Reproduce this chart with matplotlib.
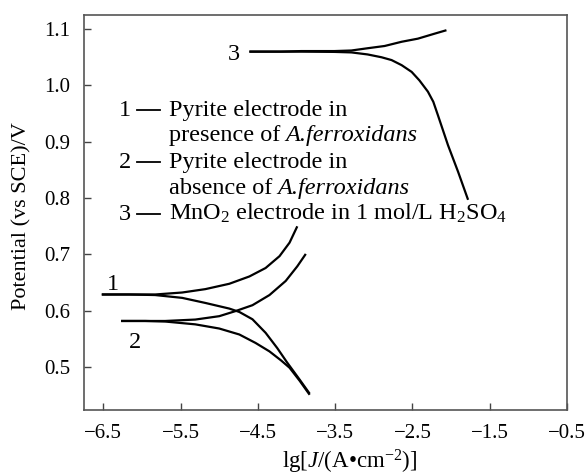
import matplotlib
matplotlib.use("Agg")
import matplotlib.pyplot as plt
from matplotlib.lines import Line2D

plt.rcParams['font.family'] = ['Liberation Serif', 'DejaVu Serif']
plt.rcParams['mathtext.fontset'] = 'custom'
plt.rcParams['mathtext.rm'] = 'Liberation Serif'
plt.rcParams['mathtext.it'] = 'Liberation Serif:italic'
plt.rcParams['mathtext.bf'] = 'Liberation Serif:bold'

# ---- data ----
c1_anodic_x = [-6.52, -6.17, -5.83, -5.48, -5.18, -4.87, -4.61, -4.40, -4.22, -4.09, -3.99]
c1_anodic_y = [0.629, 0.629, 0.629, 0.6325, 0.6385, 0.648, 0.661, 0.676, 0.697, 0.721, 0.750]
c1_cath_x = [-6.52, -6.17, -5.83, -5.48, -5.18, -4.87, -4.74, -4.57, -4.40, -4.25, -4.12, -3.96, -3.83]
c1_cath_y = [0.629, 0.629, 0.628, 0.623, 0.614, 0.604, 0.598, 0.585, 0.561, 0.534, 0.508, 0.478, 0.453]

c2_anodic_x = [-6.27, -5.96, -5.70, -5.31, -5.00, -4.79, -4.57, -4.35, -4.14, -3.99, -3.88]
c2_anodic_y = [0.582, 0.582, 0.582, 0.5845, 0.5905, 0.5995, 0.610, 0.628, 0.653, 0.679, 0.701]
c2_cath_x = [-6.27, -5.96, -5.70, -5.31, -5.00, -4.74, -4.53, -4.35, -4.20, -4.09, -3.96, -3.83]
c2_cath_y = [0.582, 0.582, 0.581, 0.576, 0.5686, 0.558, 0.543, 0.528, 0.512, 0.499, 0.476, 0.451]

c3_anodic_x = [-4.61, -4.20, -3.94, -3.51, -3.29, -3.08, -2.86, -2.64, -2.43, -2.21, -2.06]
c3_anodic_y = [1.060, 1.060, 1.061, 1.061, 1.062, 1.066, 1.070, 1.0775, 1.083, 1.092, 1.098]
c3_cath_x = [-4.61, -4.20, -3.94, -3.51, -3.29, -3.08, -2.90, -2.77, -2.64, -2.51, -2.41,
             -2.30, -2.23, -2.17, -2.04, -1.91, -1.78]
c3_cath_y = [1.060, 1.060, 1.060, 1.0595, 1.0586, 1.055, 1.050, 1.045, 1.036, 1.024, 1.009,
             0.989, 0.971, 0.947, 0.894, 0.847, 0.797]

x_ticks = [-6.5, -5.5, -4.5, -3.5, -2.5, -1.5, -0.5]
y_ticks = [0.5, 0.6, 0.7, 0.8, 0.9, 1.0, 1.1]

W, H = 586, 476
fig = plt.figure(figsize=(W / 100, H / 100), dpi=100)
ax = fig.add_axes([84 / W, 1 - 410 / H, (567 - 84) / W, (410 - 15) / H])

lw = 1.6
for xs, ys in [(c1_anodic_x, c1_anodic_y), (c1_cath_x, c1_cath_y),
               (c2_anodic_x, c2_anodic_y), (c2_cath_x, c2_cath_y),
               (c3_anodic_x, c3_anodic_y), (c3_cath_x, c3_cath_y)]:
    ax.plot(xs, ys, color='black', lw=lw, solid_capstyle='butt', solid_joinstyle='round')

ax.set_xlim(-6.75, -0.5)
ax.set_ylim(0.424, 1.125)
ax.set_xticks(x_ticks)
ax.set_yticks(y_ticks)
ax.set_xticklabels([f"{v:.1f}".replace('-', '\u2212') for v in x_ticks])
ax.set_yticklabels([f"{v:.1f}" for v in y_ticks])
ax.tick_params(direction='in', length=5, width=1, labelsize=15, color='#444', pad=10)
for s in ax.spines.values():
    s.set_color('#555')
    s.set_linewidth(1.2)

ax.set_xlabel(r'lg[$J$/(A•cm$^{-2}$)]', fontsize=16.5)
ax.xaxis.set_label_coords(0.55, -0.096)
ax.set_ylabel('Potential (vs SCE)/V', fontsize=16)
ax.yaxis.set_label_coords(-0.108, 0.49)

def fx(px):
    return px / W

def fy(py):
    return 1 - py / H

fs = 17.5
# curve labels
fig.text(fx(112.5), fy(290), '1', fontsize=fs, ha='center', va='baseline')
fig.text(fx(134.5), fy(348), '2', fontsize=fs, ha='center', va='baseline')
fig.text(fx(234), fy(60), '3', fontsize=fs, ha='center', va='baseline')

renderer = fig.canvas.get_renderer()

# legend block: (baseline px, number, regular text, italic text)
rows = [
    (116, '1', 'Pyrite electrode in', None),
    (141, None, 'presence of', 'A.ferroxidans'),
    (168, '2', 'Pyrite electrode in', None),
    (194, None, 'absence of', 'A.ferroxidans'),
    (220, '3', r'MnO$_2$ electrode in 1 mol/L H$_2$SO$_4$', None),
]
for py, num, txt, itxt in rows:
    if num is not None:
        fig.text(fx(125), fy(py), num, fontsize=fs, ha='center', va='baseline')
        fig.add_artist(Line2D([fx(137), fx(160)], [fy(py - 6), fy(py - 6)],
                              transform=fig.transFigure, color='black', lw=1.3))
    t = fig.text(fx(169), fy(py), txt, fontsize=fs, ha='left', va='baseline')
    if itxt is not None:
        bb = t.get_window_extent(renderer=renderer)
        fig.text(fx(bb.x1 + 5), fy(py), itxt, fontsize=fs, ha='left', va='baseline',
                 fontstyle='italic')

fig.savefig('out.png', dpi=100)
